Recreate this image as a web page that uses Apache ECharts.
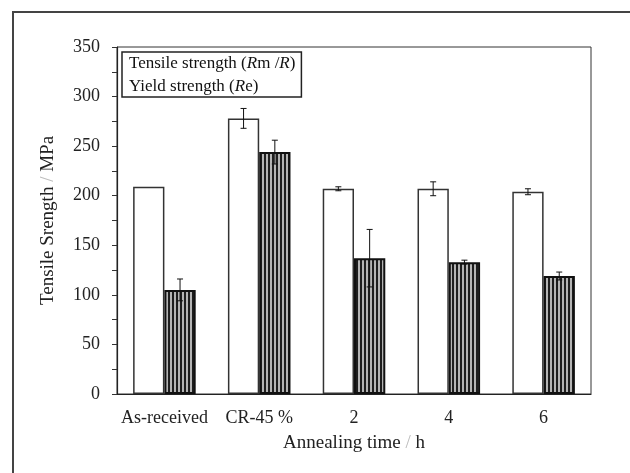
<!DOCTYPE html>
<html>
<head>
<meta charset="utf-8">
<script src="https://cdn.jsdelivr.net/npm/echarts@6/dist/echarts.min.js"></script>
<style>html,body{margin:0;padding:0;background:#fff}#c{width:630px;height:473px}</style>
</head>
<body>
<div id="c"></div>
<script>
const categories = ['As-received', 'CR-45 %', '2', '4', '6'];
const tensile = [209, 278, 207, 207, 204];
const tensileErr = [0, 10, 2, 7, 3];
const yieldS = [105, 244, 137, 133, 119];
const yieldErr = [11, 12, 29, 2, 4];
const yTicks = { min: 0, max: 350, interval: 50 };

const FONT = '"Liberation Serif", "DejaVu Serif", serif';

// vertical stripe pattern
const pc = document.createElement('canvas');
pc.width = 4; pc.height = 4;
const pctx = pc.getContext('2d');
pctx.fillStyle = '#b4b4b4'; pctx.fillRect(0, 0, 4, 4);
pctx.fillStyle = '#1e1e1e'; pctx.fillRect(0, 0, 2, 4);

const OFFSET = 0.165;
function errSeries(vals, errs, sign) {
  return {
    type: 'custom',
    z: 5,
    silent: true,
    data: vals.map((v, i) => [i, v, errs[i]]),
    renderItem: function (params, api) {
      const i = api.value(0), v = api.value(1), e = api.value(2);
      if (!e) return null;
      const cw = api.size([1, 0])[0];
      const dx = sign * cw * OFFSET;
      const hi = api.coord([i, v + e]);
      const lo = api.coord([i, v - e]);
      const x = hi[0] + dx;
      const cap = 3;
      const st = { stroke: '#111', lineWidth: 1 };
      return {
        type: 'group',
        children: [
          { type: 'line', shape: { x1: x, y1: hi[1], x2: x, y2: lo[1] }, style: st },
          { type: 'line', shape: { x1: x - cap, y1: hi[1], x2: x + cap, y2: hi[1] }, style: st },
          { type: 'line', shape: { x1: x - cap, y1: lo[1], x2: x + cap, y2: lo[1] }, style: st }
        ]
      };
    }
  };
}

const chart = echarts.init(document.getElementById('c'), null, { renderer: 'canvas' });
chart.setOption({
  animation: false,
  backgroundColor: '#fff',
  textStyle: { fontFamily: FONT },
  graphic: [{
    type: 'rect', z: -10,
    shape: { x: 13, y: 12, width: 700, height: 600 },
    style: { fill: 'none', stroke: '#444', lineWidth: 2 }
  }],
  grid: {
    left: 117, right: 39, top: 47, bottom: 79,
    show: true, borderColor: '#333', borderWidth: 1, backgroundColor: 'transparent'
  },
  legend: {
    left: 122, top: 52,
    orient: 'vertical',
    itemWidth: 0, itemHeight: 0, itemGap: 2,
    padding: [1, 6, 0, 1],
    borderColor: '#222', borderWidth: 1.5,
    selectedMode: false,
    data: ['Tensile strength (Rm /R)', 'Yield strength (Re)'],
    formatter: function (name) {
      if (name.indexOf('Tensile') === 0) return 'Tensile strength ({i|R}m /{i|R})';
      return 'Yield strength ({i|R}e)';
    },
    textStyle: {
      fontFamily: FONT, fontSize: 17, color: '#111', lineHeight: 21,
      rich: { i: { fontStyle: 'italic', fontFamily: FONT, fontSize: 17, color: '#111', lineHeight: 21 } }
    }
  },
  xAxis: {
    type: 'category',
    data: categories,
    name: 'Annealing time {s|/} h',
    nameLocation: 'middle',
    nameGap: 40,
    nameTextStyle: {
      fontFamily: FONT, fontSize: 19, color: '#222',
      rich: { s: { color: '#bbb', fontFamily: FONT, fontSize: 19 } }
    },
    axisLine: { lineStyle: { color: '#222', width: 1.2 } },
    axisTick: { show: false },
    axisLabel: { interval: 0, fontFamily: FONT, fontSize: 18, color: '#222', margin: 15 }
  },
  yAxis: {
    type: 'value',
    min: yTicks.min, max: yTicks.max, interval: yTicks.interval,
    name: 'Tensile Srength {s|/} MPa',
    nameLocation: 'middle',
    nameGap: 59,
    nameTextStyle: {
      fontFamily: FONT, fontSize: 19, color: '#222',
      rich: { s: { color: '#bbb', fontFamily: FONT, fontSize: 19 } }
    },
    axisLine: { show: true, lineStyle: { color: '#222', width: 1.2 } },
    axisTick: { show: true, inside: false, length: 5, lineStyle: { color: '#333' } },
    minorTick: { show: true, splitNumber: 2, length: 5, lineStyle: { color: '#333' } },
    splitLine: { show: false },
    minorSplitLine: { show: false },
    axisLabel: { fontFamily: FONT, fontSize: 18, color: '#222', margin: 17 }
  },
  series: [
    {
      name: 'Tensile strength (Rm /R)',
      type: 'bar',
      data: tensile,
      barGap: '0%',
      barCategoryGap: '34%',
      itemStyle: { color: '#fff', borderColor: '#333', borderWidth: 1.5 }
    },
    {
      name: 'Yield strength (Re)',
      type: 'bar',
      data: yieldS,
      barGap: '0%',
      barCategoryGap: '34%',
      itemStyle: { color: { image: pc, repeat: 'repeat' }, borderColor: '#111', borderWidth: 2 }
    },
    errSeries(tensile, tensileErr, -1),
    errSeries(yieldS, yieldErr, 1)
  ]
});
</script>
</body>
</html>
